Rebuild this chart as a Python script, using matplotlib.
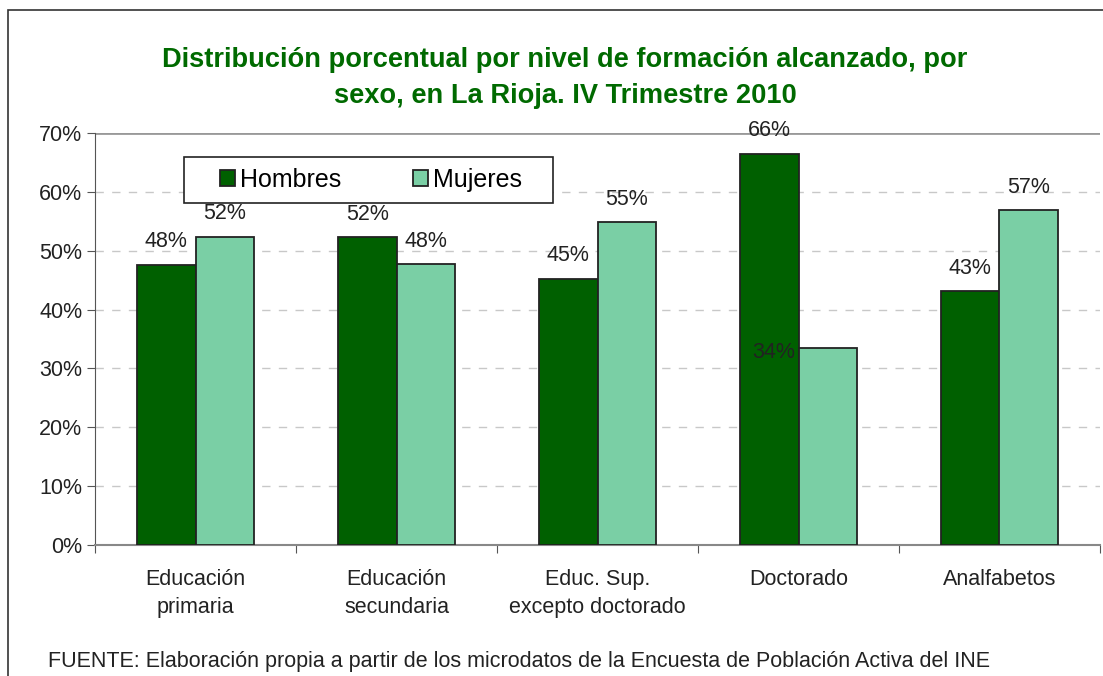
import matplotlib
matplotlib.use("Agg")
import matplotlib.pyplot as plt
from matplotlib.patches import Rectangle
import numpy as np

plt.rcParams['font.family'] = ['Liberation Sans', 'DejaVu Sans']

# datos
categorias = ["Educación\nprimaria", "Educación\nsecundaria", "Educ. Sup.\nexcepto doctorado",
              "Doctorado", "Analfabetos"]
hombres = [47.6, 52.3, 45.2, 66.5, 43.1]
mujeres = [52.4, 47.7, 54.8, 33.5, 56.9]
yticks = [0, 10, 20, 30, 40, 50, 60, 70]

verde_osc = "#006000"
verde_cla = "#7ACFA5"
W, H = 1103, 676
fs = 15.5

fig = plt.figure(figsize=(W / 100, H / 100), dpi=100)
# marco exterior del grafico (cortado a la derecha y abajo)
fig.patches.append(Rectangle((8 / W, -0.05), 1.2, 1 - 10 / H + 0.05, transform=fig.transFigure,
                             fill=False, edgecolor="#333333", linewidth=1.2))

ax = fig.add_axes([95 / W, 1 - 545 / H, 1005 / W, 412 / H])

x = np.arange(len(categorias))
ancho = 0.29
b1 = ax.bar(x - ancho / 2, hombres, ancho, color=verde_osc, edgecolor="#222222", linewidth=1.3,
            label="Hombres", zorder=3)
b2 = ax.bar(x + ancho / 2, mujeres, ancho, color=verde_cla, edgecolor="#222222", linewidth=1.3,
            label="Mujeres", zorder=3)

for i in range(len(categorias)):
    ax.annotate(f"{hombres[i]:.0f}%", (x[i] - ancho / 2, hombres[i]), xytext=(0, 23),
                textcoords="offset pixels", ha="center", va="center", fontsize=fs, color="#222222")
    if i == 3:
        # etiqueta desplazada como en el original
        ax.annotate(f"{mujeres[i]:.0f}%", (x[i] + ancho / 2, mujeres[i]), xytext=(-54, -5),
                    textcoords="offset pixels", ha="center", va="center", fontsize=fs,
                    color="#222222", zorder=4)
    else:
        ax.annotate(f"{mujeres[i]:.0f}%", (x[i] + ancho / 2, mujeres[i]), xytext=(0, 23),
                    textcoords="offset pixels", ha="center", va="center", fontsize=fs,
                    color="#222222")

ax.set_xlim(-0.5, len(categorias) - 0.5)
ax.set_ylim(0, 70)
ax.set_yticks(yticks)
ax.set_yticklabels([f"{v}%" for v in yticks], fontsize=fs, color="#222222")
ax.set_xticks(np.arange(-0.5, len(categorias) + 0.5, 1))
ax.set_xticklabels([])
ax.set_xticks(x, minor=True)
ax.set_xticklabels(categorias, minor=True, fontsize=fs, color="#222222", linespacing=1.45)
ax.tick_params(axis="x", which="minor", length=0, pad=17)
ax.tick_params(axis="x", which="major", length=6, color="#555555")
ax.tick_params(axis="y", length=6, color="#555555", pad=3)

for v in yticks[1:-1]:
    ax.axhline(v, color="#c8c8c8", linestyle=(0, (6, 6)), linewidth=1, zorder=1)
ax.axhline(70, color="#999999", linewidth=2, zorder=1)

for s in ["top", "right"]:
    ax.spines[s].set_visible(False)
ax.spines["left"].set_color("#555555")
ax.spines["bottom"].set_color("#888888")
ax.spines["bottom"].set_linewidth(1.5)

# recuadro de la leyenda
caja = Rectangle((184 / W, 1 - 203 / H), 369 / W, 46 / H, transform=fig.transFigure,
                 facecolor="white", edgecolor="#222222", linewidth=1.2, zorder=4)
ax.add_artist(caja)
caja.set_clip_on(False)
leg = ax.legend(loc="center", bbox_to_anchor=(371 / W, 1 - 180 / H), bbox_transform=fig.transFigure,
                ncol=2, fontsize=18, frameon=False, handlelength=0.6, handleheight=0.6,
                handletextpad=0.2, columnspacing=2.9, borderpad=0, borderaxespad=0)
leg.set_zorder(5)

fig.text(565 / W, 1 - 78 / H,
         "Distribución porcentual por nivel de formación alcanzado, por\nsexo, en La Rioja. IV Trimestre 2010",
         ha="center", va="center", fontsize=19.6, fontweight="bold", color="#006A00", linespacing=1.5)

fig.text(48 / W, 1 - 662 / H,
         "FUENTE: Elaboración propia a partir de los microdatos de la Encuesta de Población Activa del INE",
         ha="left", va="center", fontsize=fs, color="#222222")

fig.savefig("out.png", dpi=100)
